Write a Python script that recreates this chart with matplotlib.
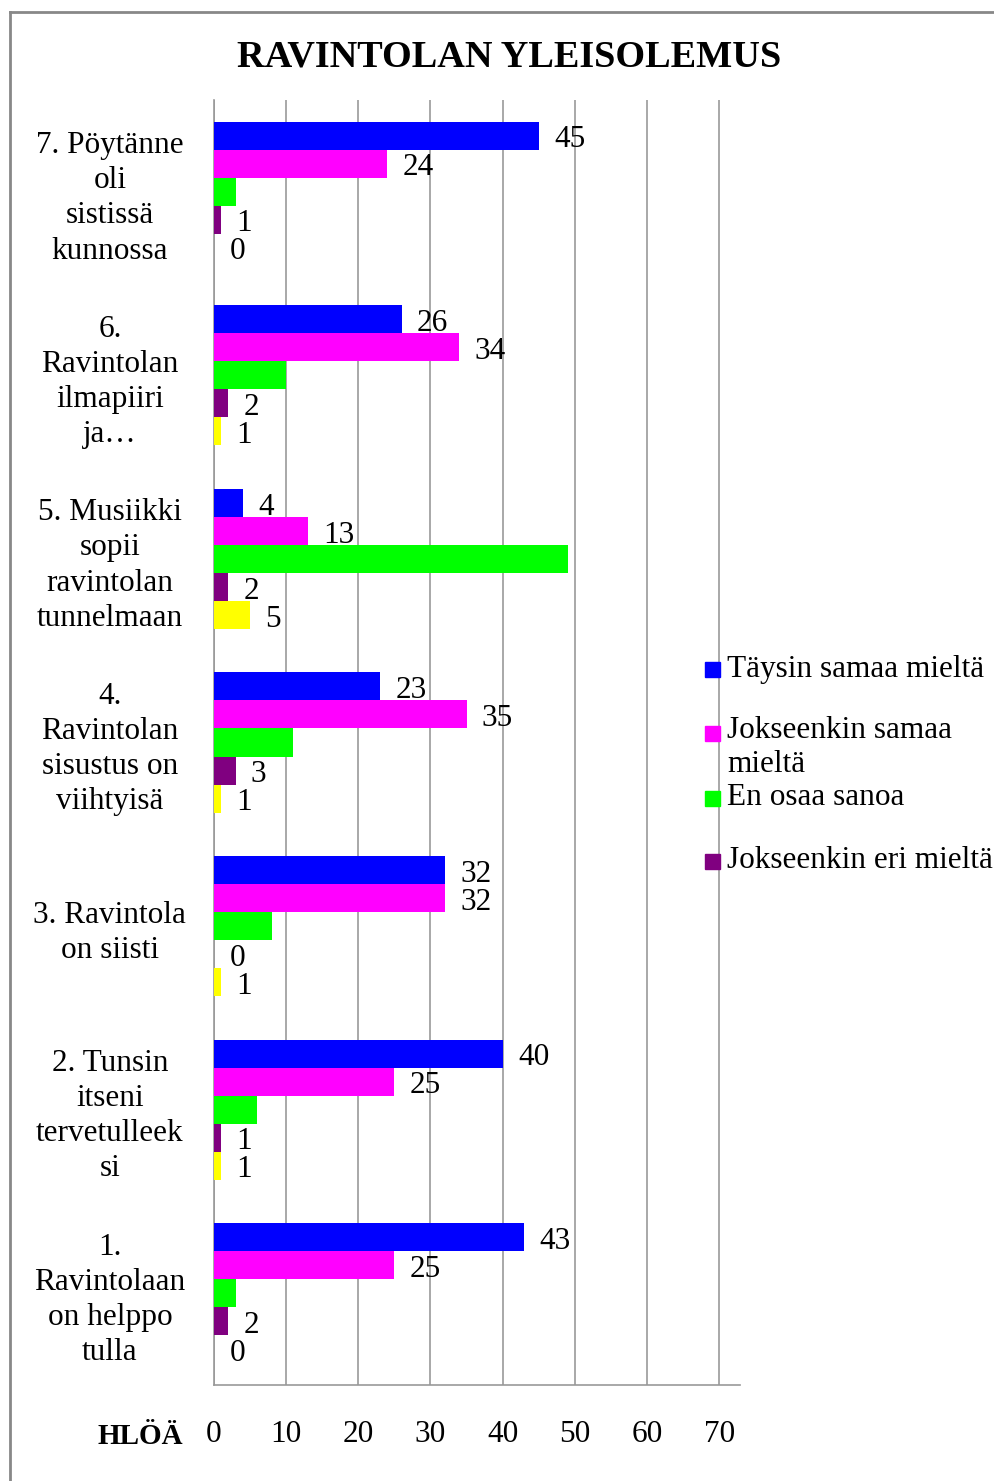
import numpy as np
import matplotlib
matplotlib.use("Agg")
import matplotlib.pyplot as plt
from matplotlib.patches import Rectangle
from matplotlib.lines import Line2D

plt.rcParams['font.family'] = ['Liberation Serif', 'DejaVu Serif']

# categories, bottom to top as drawn
categories = [
    "1.\nRavintolaan\non helppo\ntulla",
    "2. Tunsin\nitseni\ntervetulleek\nsi",
    "3. Ravintola\non siisti",
    "4.\nRavintolan\nsisustus on\nviihtyisä",
    "5. Musiikki\nsopii\nravintolan\ntunnelmaan",
    "6.\nRavintolan\nilmapiiri\nja…",
    "7. Pöytänne\noli\nsistissä\nkunnossa",
]
series_names = ["Täysin samaa mieltä", "Jokseenkin samaa\nmieltä",
                "En osaa sanoa", "Jokseenkin eri mieltä", "Täysin eri mieltä"]
taysin_samaa = [43, 40, 32, 23, 4, 26, 45]
jokseenkin_samaa = [25, 25, 32, 35, 13, 34, 24]
en_osaa = [3, 6, 8, 11, 49, 10, 3]
jokseenkin_eri = [2, 1, 0, 3, 2, 2, 1]
taysin_eri = [0, 1, 1, 1, 5, 1, 0]
colors = ["#0000ff", "#ff00ff", "#00ff00", "#800080", "#ffff00"]
show_labels = [True, True, False, True, True]
x_ticks = [0, 10, 20, 30, 40, 50, 60, 70]

all_series = [taysin_samaa, jokseenkin_samaa, en_osaa, jokseenkin_eri, taysin_eri]
FS = 22.5

fig = plt.figure(figsize=(9.95, 14.81), dpi=100)
ax = fig.add_axes([214 / 995, 1 - 1385 / 1481, (740 - 214) / 995, (1385 - 100) / 1481])

bar_h = 0.1526
y = np.arange(len(categories))
for k, (vals, col) in enumerate(zip(all_series, colors)):
    # first series sits at the top of each group
    pos = y + (2 - k) * bar_h
    ax.barh(pos, vals, height=bar_h, color=col, zorder=3)
    if show_labels[k]:
        for p, v in zip(pos, vals):
            ax.annotate(str(v), (v, p), xytext=(11, -3), textcoords="offset points",
                        va="center", ha="left", fontsize=FS, zorder=4)

ax.set_xlim(0, 72.9)
ax.set_ylim(-0.5, len(categories) - 0.5)
ax.set_xticks(x_ticks)
ax.set_yticks(y)
ax.set_yticklabels(categories, fontsize=FS, ha="center", linespacing=1.28)
ax.tick_params(axis="y", length=0, pad=75)
ax.tick_params(axis="x", length=0, pad=25, labelsize=FS)
ax.grid(axis="x", color="#999999", linewidth=1.2, zorder=0)
for side in ["top", "right"]:
    ax.spines[side].set_visible(False)
for side in ["left", "bottom"]:
    ax.spines[side].set_color("#999999")
    ax.spines[side].set_linewidth(1.2)

fig.text(509 / 995, 1 - 57 / 1481, "RAVINTOLAN YLEISOLEMUS", ha="center", va="center",
         fontsize=27.5, fontweight="bold")
fig.text(140 / 995, 1 - 1436 / 1481, "HLÖÄ", ha="center", va="center",
         fontsize=21, fontweight="bold")

# legend drawn by hand (last entry is cut off in the original)
leg_y = [669, 733, 798, 861]
for name, col, ly in zip(series_names[:4], colors[:4], leg_y):
    fig.add_artist(Rectangle((705 / 995, 1 - (ly + 8) / 1481), 15 / 995, 15 / 1481,
                             transform=fig.transFigure, color=col))
    if "\n" in name:
        fig.text(727 / 995, 1 - (ly - 17) / 1481, name, ha="left", va="top",
                 fontsize=FS, linespacing=1.25)
    else:
        fig.text(727 / 995, 1 - ly / 1481, name, ha="left", va="center", fontsize=FS)

# chart frame
fig.add_artist(Line2D([10 / 995, 10 / 995], [0, 1 - 12 / 1481], color="#888888", linewidth=2))
fig.add_artist(Line2D([10 / 995, 1], [1 - 12 / 1481, 1 - 12 / 1481], color="#888888", linewidth=2))

fig.savefig("out.png", dpi=100)
